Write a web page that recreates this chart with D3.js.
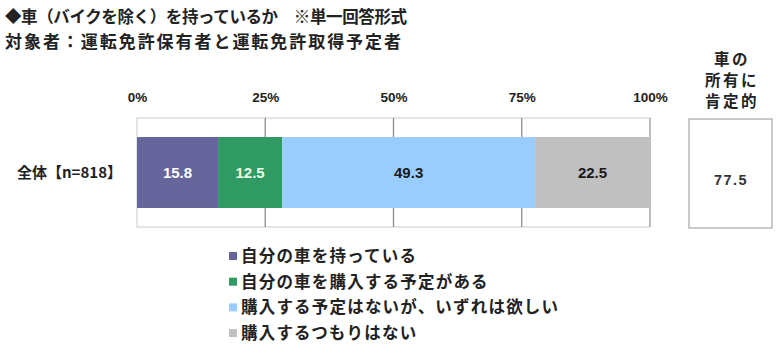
<!DOCTYPE html>
<html>
<head>
<meta charset="utf-8">
<script src="https://cdn.jsdelivr.net/npm/d3@7"></script>
<style>
  html, body { margin: 0; padding: 0; background: #fff; }
  svg { display: block; }
  .jp { font-family: "Noto Sans CJK JP", "Noto Sans", sans-serif; font-weight: 700; fill: #222; }
  .num { font-family: "Liberation Sans Narrow", "Liberation Sans", Arial, sans-serif; font-weight: 700; }
</style>
</head>
<body>
<div id="chart"></div>
<script>
// data
const categories = ['全体【n=818】'];
const seriesNames = [
  '自分の車を持っている',
  '自分の車を購入する予定がある',
  '購入する予定はないが、いずれは欲しい',
  '購入するつもりはない'
];
const seriesValues = [15.8, 12.5, 49.3, 22.5];
const seriesColors = ['#66669c', '#2f9a62', '#99ccff', '#c0c0c0'];
const labelColors  = ['#ffffff', '#eafbe6', '#1a1a1a', '#1a1a1a'];
const tickValues = [0, 25, 50, 75, 100];
const positiveLabel = ['車の', '所有に', '肯定的'];
const positiveValue = 77.5;

(function initChart() {
  const width = 780, height = 353;
  const svg = d3.select('#chart').append('svg')
    .attr('width', width).attr('height', height);

  // titles
  svg.append('text').attr('class', 'jp')
    .attr('x', 5).attr('y', 23)
    .attr('font-size', 16.5)
    .attr('textLength', 402).attr('lengthAdjust', 'spacing')
    .text('◆車（バイクを除く）を持っているか　※単一回答形式');
  svg.append('text').attr('class', 'jp')
    .attr('x', 5).attr('y', 48)
    .attr('font-size', 17)
    .attr('textLength', 396).attr('lengthAdjust', 'spacing')
    .text('対象者：運転免許保有者と運転免許取得予定者');

  // scales
  const x = d3.scaleLinear().domain([0, 100]).range([137, 650]);
  const y = d3.scaleBand().domain(categories).range([118, 227])
    .paddingInner(0).paddingOuter(0.268);

  // plot frame
  svg.append('rect')
    .attr('x', x(0)).attr('y', 118)
    .attr('width', x(100) - x(0)).attr('height', 109)
    .attr('fill', 'none').attr('stroke', '#d4d4d4').attr('stroke-width', 1.2);

  // gridlines
  svg.append('g').selectAll('line').data(tickValues.slice(1)).join('line')
    .attr('x1', d => x(d)).attr('x2', d => x(d))
    .attr('y1', 118).attr('y2', 227)
    .attr('stroke', d => d === 100 ? '#aaaaaa' : '#8c8c8c')
    .attr('stroke-width', 1.3);

  // axis on top
  const gx = svg.append('g').attr('transform', 'translate(0,118)')
    .call(d3.axisTop(x).tickValues(tickValues).tickSize(0).tickPadding(16)
      .tickFormat(d => d + '%'));
  gx.select('.domain').remove();
  gx.selectAll('text')
    .attr('class', 'num')
    .attr('font-size', 13.5)
    .attr('fill', '#222');

  // stacked bars
  let acc = 0;
  const stacked = seriesValues.map((v, i) => {
    const s = { name: seriesNames[i], v, x0: acc, x1: acc + v, i };
    acc += v;
    return s;
  });
  const bars = svg.append('g');
  bars.selectAll('rect').data(stacked).join('rect')
    .attr('x', d => x(d.x0))
    .attr('y', y(categories[0]))
    .attr('width', d => Math.min(x(d.x1), x(100)) - x(d.x0))
    .attr('height', y.bandwidth())
    .attr('fill', d => seriesColors[d.i]);
  bars.selectAll('text').data(stacked).join('text')
    .attr('class', 'num')
    .attr('x', d => (x(d.x0) + Math.min(x(d.x1), x(100))) / 2)
    .attr('y', y(categories[0]) + y.bandwidth() / 2)
    .attr('dy', '0.35em')
    .attr('text-anchor', 'middle')
    .attr('font-size', 15)
    .attr('fill', d => labelColors[d.i])
    .text(d => d.v.toFixed(1));

  // category label
  svg.append('g').selectAll('text').data(categories).join('text')
    .attr('class', 'jp')
    .attr('x', 122)
    .attr('y', d => y(d) + y.bandwidth() / 2)
    .attr('dy', '0.35em')
    .attr('text-anchor', 'end')
    .attr('font-size', 15)
    .text(d => d);

  // legend
  const lg = svg.append('g').selectAll('g').data(seriesNames).join('g')
    .attr('transform', (d, i) => `translate(229,${256 + i * 25.7})`);
  lg.append('rect')
    .attr('x', 0).attr('y', -4).attr('width', 8).attr('height', 8)
    .attr('fill', (d, i) => seriesColors[i]);
  lg.append('text').attr('class', 'jp')
    .attr('x', 12).attr('dy', '0.36em')
    .attr('font-size', 16.5)
    .attr('letter-spacing', 1.2)
    .text(d => d);

  // positive total box
  svg.append('g').selectAll('text').data(positiveLabel).join('text')
    .attr('class', 'jp')
    .attr('x', 732)
    .attr('y', (d, i) => 60 + i * 21)
    .attr('dy', '0.35em')
    .attr('text-anchor', 'middle')
    .attr('font-size', 15.5)
    .attr('letter-spacing', 2.5)
    .attr('fill', '#333')
    .text(d => d);
  svg.append('rect')
    .attr('x', 689).attr('y', 119).attr('width', 83).attr('height', 109)
    .attr('fill', '#fff').attr('stroke', '#a6a6a6').attr('stroke-width', 1.2);
  svg.append('text').attr('class', 'num')
    .attr('x', 731).attr('y', 180)
    .attr('dy', '0.35em')
    .attr('text-anchor', 'middle')
    .attr('font-size', 14.5)
    .attr('letter-spacing', 1.5)
    .attr('fill', '#333')
    .text(positiveValue.toFixed(1));
})();
</script>
</body>
</html>
